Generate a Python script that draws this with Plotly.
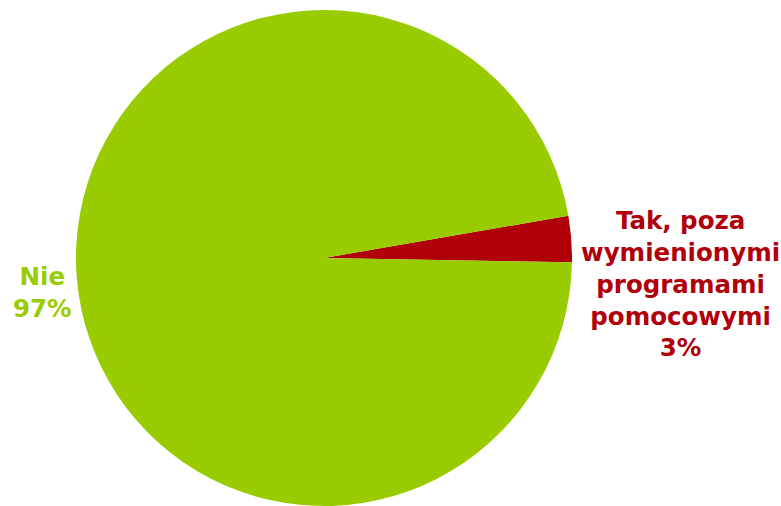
import plotly.graph_objects as go

labels = ["Tak, poza<br>wymienionymi<br>programami<br>pomocowymi", "Nie"]
values = [3, 97]
colors = ["#B0000A", "#99CC00"]

W, H = 781, 506
fig = go.Figure(go.Pie(
    labels=labels, values=values, sort=False, direction="clockwise",
    rotation=80.2, marker=dict(colors=colors, line=dict(width=0)),
    textinfo="none", hoverinfo="label+percent",
    domain=dict(x=[76 / W, 572 / W], y=[0, 496 / H]),
))

label_pos = [(680, 284), (42, 292)]
for lab, val, col, (px, py) in zip(labels, values, colors, label_pos):
    fig.add_annotation(
        x=px / W, y=1 - py / H, xref="paper", yref="paper",
        text=f"<b>{lab}<br>{val}%</b>", showarrow=False,
        font=dict(family="DejaVu Sans", size=24.5, color=col),
        align="center", xanchor="center", yanchor="middle",
    )

fig.update_layout(
    width=W, height=H, margin=dict(l=0, r=0, t=0, b=0),
    showlegend=False, paper_bgcolor="white", plot_bgcolor="white",
)
fig.write_html("out.html", config={"displayModeBar": False},
               post_script="document.body.style.margin='0';")
